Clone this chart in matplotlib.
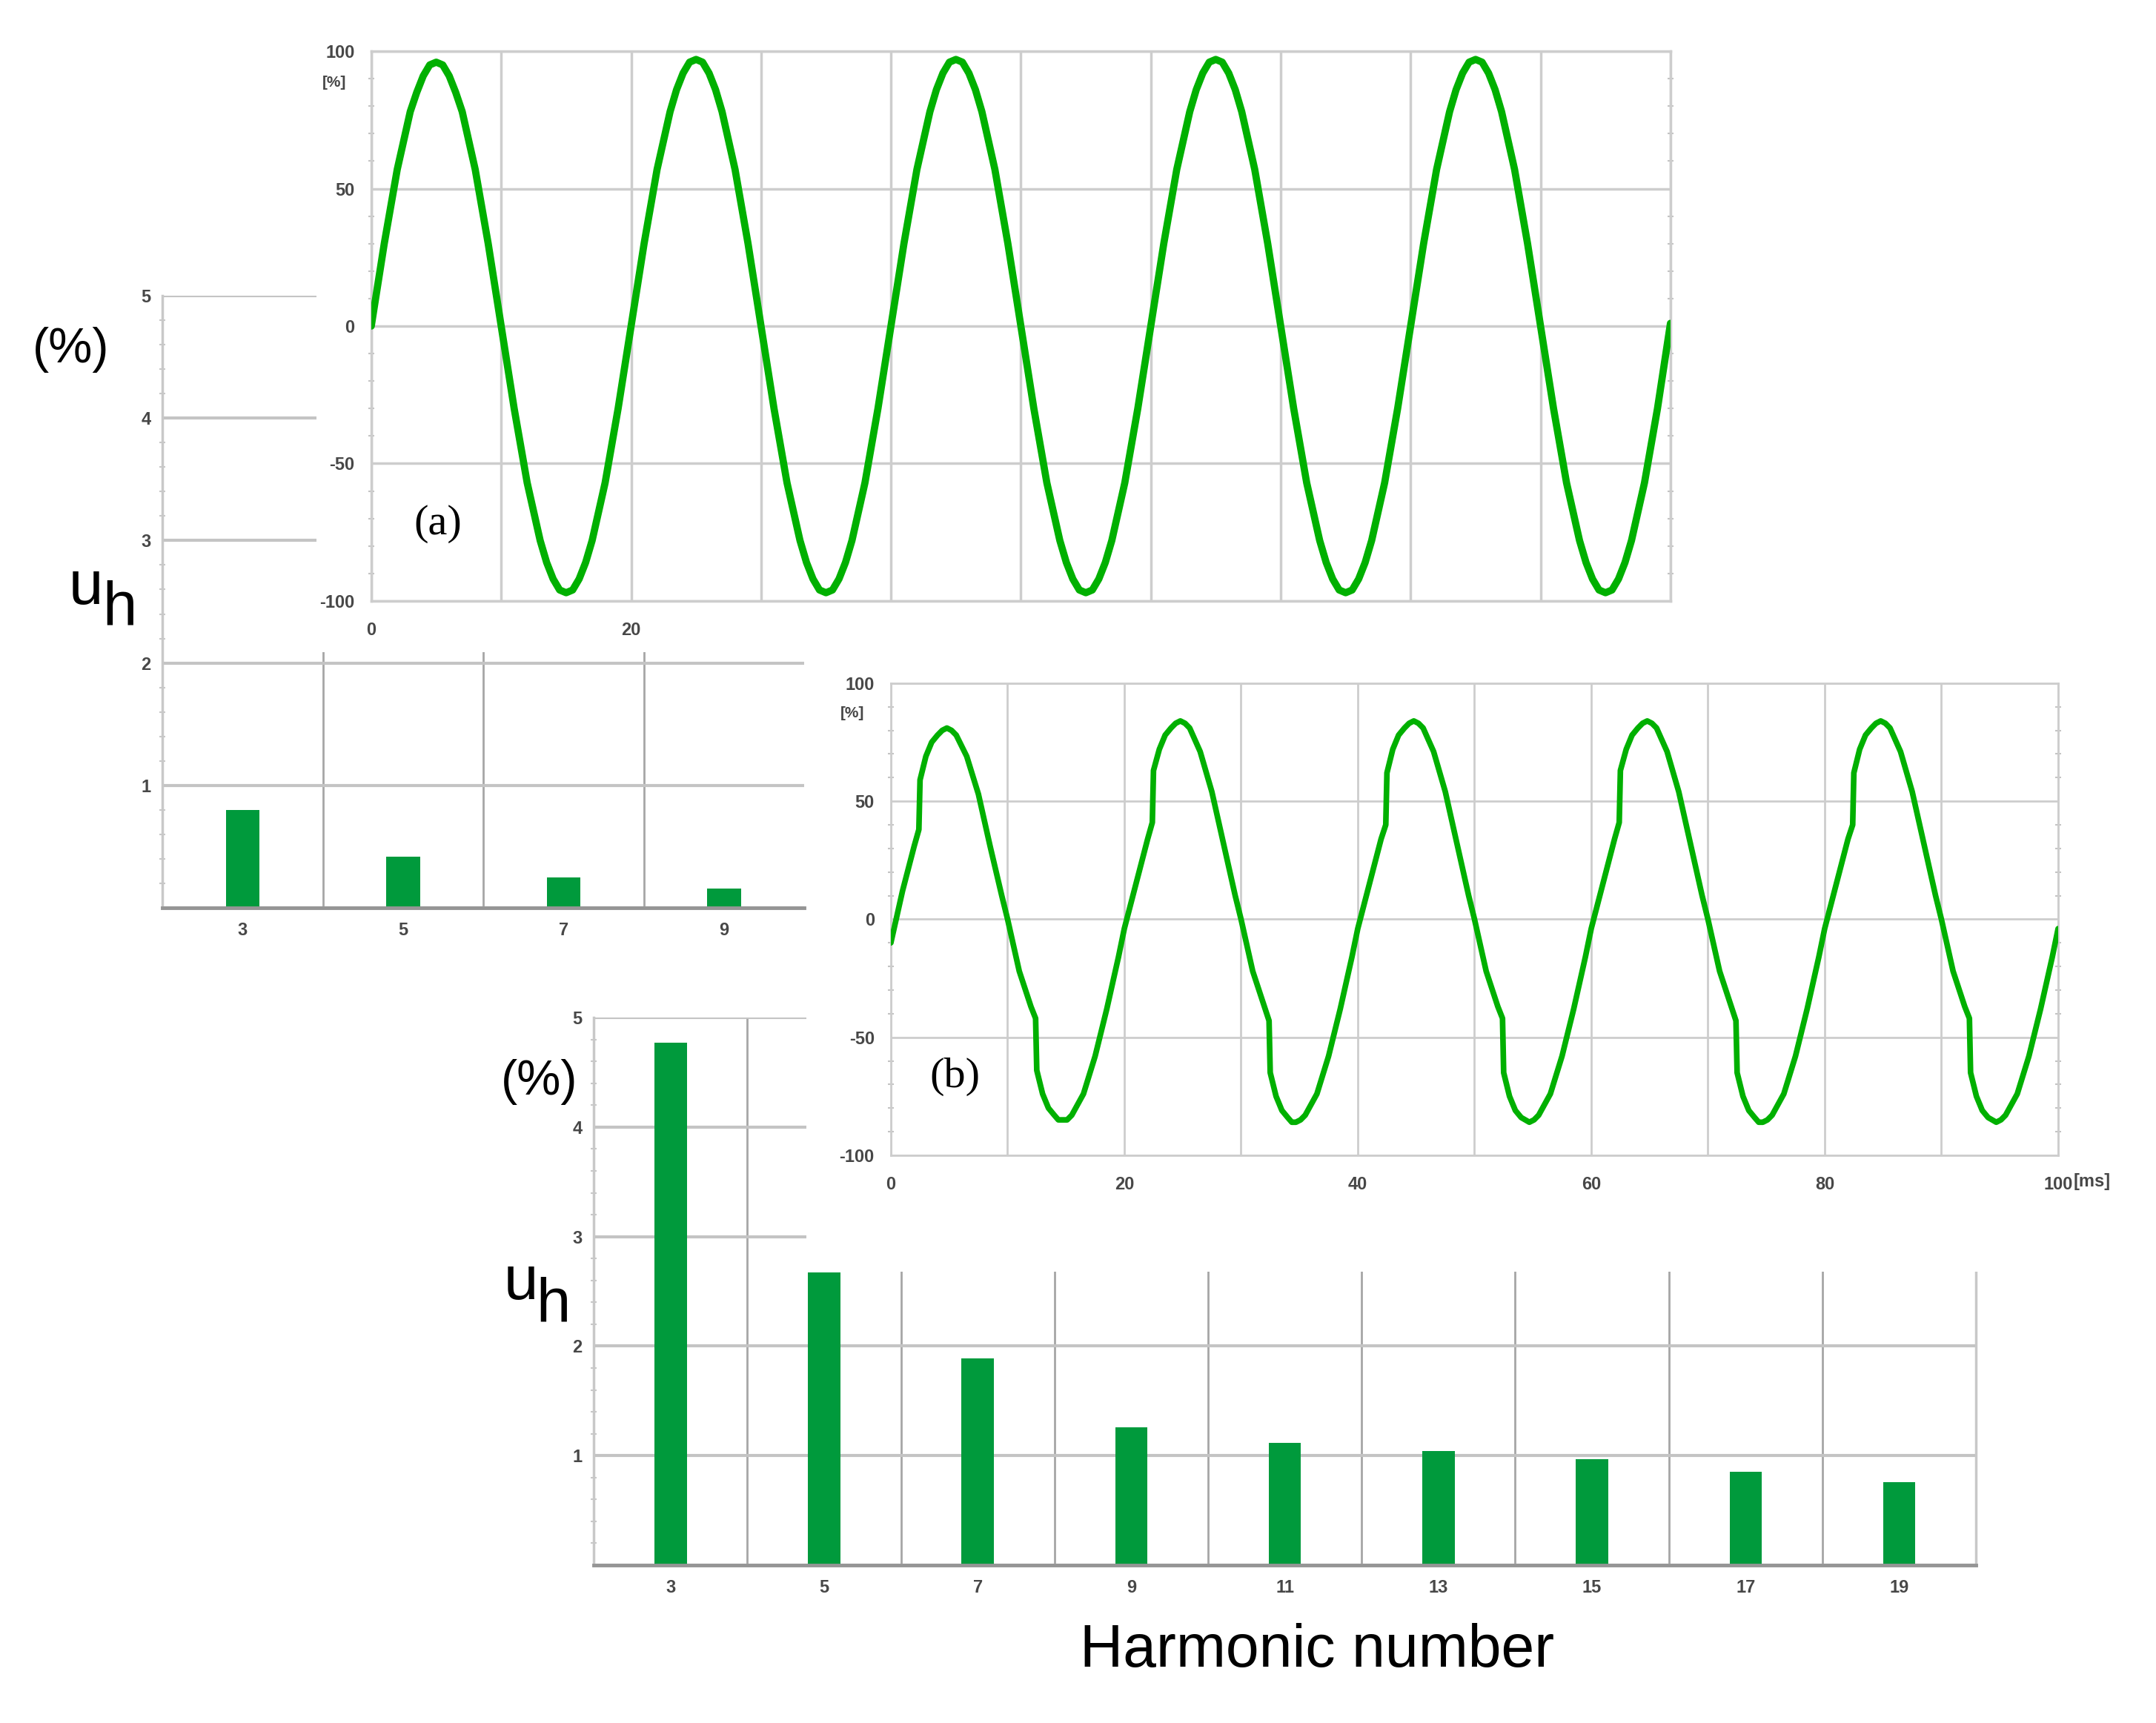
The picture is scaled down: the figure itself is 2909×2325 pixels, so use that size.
"""
Harmonic spectra u_h (%) with the matching voltage waveforms:
(a) nearly sinusoidal supply, (b) distorted supply with notches.
Composite layout: each waveform panel is laid over the upper part of its bar chart.
"""
import matplotlib; matplotlib.use("Agg")
import matplotlib.pyplot as plt
from matplotlib.patches import Rectangle
import numpy as np

# ── waveform (a) (ms, %), denser near the crests ──
t_a = [0, 1, 2, 3, 3.5, 4, 4.5, 5, 5.5, 6, 6.5, 7, 8, 9, 10, 11, 12, 13, 13.5, 14, 14.5, 15, 15.5, 16, 16.5, 17, 18, 19,
       20, 21, 22, 23, 23.5, 24, 24.5, 25, 25.5, 26, 26.5, 27, 28, 29, 30, 31, 32, 33, 33.5, 34, 34.5, 35, 35.5, 36, 36.5, 37, 38, 39,
       40, 41, 42, 43, 43.5, 44, 44.5, 45, 45.5, 46, 46.5, 47, 48, 49, 50, 51, 52, 53, 53.5, 54, 54.5, 55, 55.5, 56, 56.5, 57, 58, 59,
       60, 61, 62, 63, 63.5, 64, 64.5, 65, 65.5, 66, 66.5, 67, 68, 69, 70, 71, 72, 73, 73.5, 74, 74.5, 75, 75.5, 76, 76.5, 77, 78, 79,
       80, 81, 82, 83, 83.5, 84, 84.5, 85, 85.5, 86, 86.5, 87, 88, 89, 90, 91, 92, 93, 93.5, 94, 94.5, 95, 95.5, 96, 96.5, 97, 98, 99,
       100]
v_a = [0, 30, 57, 78, 85, 91, 95, 96, 95, 91, 85, 78, 57, 30, 0, -30, -57, -78, -86, -92, -96, -97, -96, -92, -86, -78, -57, -30,
       0, 30, 57, 78, 86, 92, 96, 97, 96, 92, 86, 78, 57, 30, 0, -30, -57, -78, -86, -92, -96, -97, -96, -92, -86, -78, -57, -30,
       0, 30, 57, 78, 86, 92, 96, 97, 96, 92, 86, 78, 57, 30, 0, -30, -57, -78, -86, -92, -96, -97, -96, -92, -86, -78, -57, -30,
       0, 30, 57, 78, 86, 92, 96, 97, 96, 92, 86, 78, 57, 30, 0, -30, -57, -78, -86, -92, -96, -97, -96, -92, -86, -78, -57, -30,
       0, 30, 57, 78, 86, 92, 96, 97, 96, 92, 86, 78, 57, 30, 0, -30, -57, -78, -86, -92, -96, -97, -96, -92, -86, -78, -57, -30,
       1]

# ── waveform (b): distorted, read point by point (ms, %) ──
t_b = [0, 1, 2, 2.4, 2.5, 3, 3.5, 4, 4.4, 4.8, 5.2, 5.6, 6.5, 7.5, 8.5, 9.5, 10, 11, 12, 12.4, 12.5, 13, 13.5, 14, 14.35, 14.7, 15.1, 15.5, 16.5, 17.5, 18.5, 19.5,
       20, 21, 22, 22.4, 22.5, 23, 23.5, 24, 24.4, 24.8, 25.2, 25.6, 26.5, 27.5, 28.5, 29.5, 30, 31, 32, 32.4, 32.5, 33, 33.5, 34, 34.35, 34.7, 35.1, 35.5, 36.5, 37.5, 38.5, 39.5,
       40, 41, 42, 42.4, 42.5, 43, 43.5, 44, 44.4, 44.8, 45.2, 45.6, 46.5, 47.5, 48.5, 49.5, 50, 51, 52, 52.4, 52.5, 53, 53.5, 54, 54.35, 54.7, 55.1, 55.5, 56.5, 57.5, 58.5, 59.5,
       60, 61, 62, 62.4, 62.5, 63, 63.5, 64, 64.4, 64.8, 65.2, 65.6, 66.5, 67.5, 68.5, 69.5, 70, 71, 72, 72.4, 72.5, 73, 73.5, 74, 74.35, 74.7, 75.1, 75.5, 76.5, 77.5, 78.5, 79.5,
       80, 81, 82, 82.4, 82.5, 83, 83.5, 84, 84.4, 84.8, 85.2, 85.6, 86.5, 87.5, 88.5, 89.5, 90, 91, 92, 92.4, 92.5, 93, 93.5, 94, 94.35, 94.7, 95.1, 95.5, 96.5, 97.5, 98.5, 99.5,
       100]
v_b = [-10, 12, 31, 38, 59, 69, 75, 78, 80, 81, 80, 78, 69, 53, 31, 10, 0, -22, -37, -42, -64, -74, -80, -83, -85, -85, -85, -83, -74, -58, -38, -16,
       -4, 15, 34, 41, 63, 72, 78, 81, 83, 84, 83, 81, 71, 54, 32, 10, 0, -22, -37, -43, -65, -75, -81, -84, -86, -86, -85, -83, -74, -58, -38, -16,
       -4, 15, 34, 40, 62, 72, 78, 81, 83, 84, 83, 81, 71, 54, 32, 10, 0, -22, -37, -42, -65, -75, -81, -84, -85, -86, -85, -83, -74, -58, -38, -16,
       -4, 15, 34, 41, 63, 72, 78, 81, 83, 84, 83, 81, 71, 54, 32, 10, 0, -22, -37, -43, -65, -75, -81, -84, -86, -86, -85, -83, -74, -58, -38, -16,
       -4, 15, 34, 40, 62, 72, 78, 81, 83, 84, 83, 81, 71, 54, 32, 10, 0, -22, -37, -42, -65, -75, -81, -84, -85, -86, -85, -83, -74, -58, -38, -16,
       -4]

# ── harmonic spectra ──
harm_a = [3, 5, 7, 9]
uh_a = [0.80, 0.42, 0.25, 0.16]
harm_b = [3, 5, 7, 9, 11, 13, 15, 17, 19]
uh_b = [4.77, 2.67, 1.89, 1.26, 1.12, 1.04, 0.97, 0.85, 0.76]

xlab_a = ["0", "", "20", "", "", "", "", "", "", "", ""]
xlab_b = ["0", "", "20", "", "40", "", "60", "", "80", "", "100"]
ylab_bar = ["", "1", "2", "3", "4", "5"]

GREEN, BAR, TXT = "#00b000", "#009a3c", "#474747"
plt.rcParams["font.family"] = ["Liberation Sans", "DejaVu Sans"]
plt.rcParams["axes.unicode_minus"] = False

fig = plt.figure(figsize=(29.09, 23.25), dpi=100)


def bold_ticks(ax):
    for lb in ax.get_xticklabels() + ax.get_yticklabels():
        lb.set_fontweight("bold")


def wave_panel(rect, t, v, xlabels, lw, gw):
    ax = fig.add_axes(rect, zorder=3)
    ax.plot(t, v, color=GREEN, lw=lw, solid_joinstyle="round", solid_capstyle="round", zorder=3)
    ax.set_xlim(0, 100); ax.set_ylim(-100, 100)
    ax.set_xticks(range(0, 101, 10)); ax.set_xticklabels(xlabels)
    ax.set_yticks([-100, -50, 0, 50, 100])
    ax.set_yticks(range(-100, 101, 10), minor=True)
    ax.grid(which="major", color="#cdcdcd", lw=gw)
    ax.tick_params(which="major", length=0, labelsize=17, labelcolor=TXT)
    ax.tick_params(axis="x", pad=20); ax.tick_params(axis="y", pad=16)
    ax.tick_params(axis="y", which="minor", length=6, width=1.5, color="#c4c4c4",
                   direction="inout", right=True)
    for s in ax.spines.values():
        s.set_color("#cdcdcd"); s.set_linewidth(gw)
    bold_ticks(ax)
    return ax


def bar_panel(rect, harm, vals, xmax, right):
    ax = fig.add_axes(rect, zorder=1)
    ax.bar(harm, vals, width=0.42, color=BAR, zorder=2)
    ax.set_xlim(2, xmax); ax.set_ylim(0, 5)
    ax.set_xticks(harm); ax.set_xticks(range(4, xmax, 2), minor=True)
    ax.set_yticks(range(6)); ax.set_yticklabels(ylab_bar)
    ax.set_yticks(np.arange(0, 5.01, 0.2), minor=True)
    ax.grid(which="major", axis="y", color="#c4c4c4", lw=3)
    ax.grid(which="minor", axis="x", color="#a6a6a6", lw=2)
    ax.tick_params(which="major", length=0, labelsize=17, labelcolor=TXT)
    ax.tick_params(axis="x", pad=14); ax.tick_params(axis="y", pad=11)
    ax.tick_params(axis="x", which="minor", length=0)
    ax.tick_params(axis="y", which="minor", length=6, width=1.5, color="#c8c8c8", direction="inout")
    ax.spines["top"].set_visible(False)
    ax.spines["right"].set_visible(right)
    ax.spines["right"].set_color("#c8c8c8"); ax.spines["right"].set_linewidth(2.5)
    ax.spines["left"].set_color("#c8c8c8"); ax.spines["left"].set_linewidth(2.5)
    ax.spines["bottom"].set_color("#959595"); ax.spines["bottom"].set_linewidth(3.5)
    ax.spines["bottom"].set_zorder(4)
    bold_ticks(ax)
    return ax


# (a) spectrum + waveform laid on top of it
bar_panel([0.0753, 0.4731, 0.2977, 0.3553], harm_a, uh_a, 10, False)
fig.add_artist(Rectangle((0.1468, 0.6215), 0.70, 0.3785, transform=fig.transFigure,
                         facecolor="white", edgecolor="none", zorder=2))
wa = wave_panel([0.1722, 0.6512, 0.6026, 0.3191], t_a, v_a, xlab_a, 7.0, 2.5)
wa.text(-0.0285, 0.943, "[%]", transform=wa.transAxes, ha="center", va="center",
        fontsize=15, fontweight="bold", color=TXT)
wa.text(0.051, 0.14, "(a)", transform=wa.transAxes, ha="center", va="center",
        fontsize=42, family="Liberation Serif", color="black")

# (b) spectrum + waveform
bar_panel([0.2754, 0.0916, 0.6411, 0.3178], harm_b, uh_b, 20, True)
fig.add_artist(Rectangle((0.374, 0.2619), 0.62, 0.351, transform=fig.transFigure,
                         facecolor="white", edgecolor="none", zorder=2))
wb = wave_panel([0.4132, 0.3295, 0.5414, 0.2740], t_b, v_b, xlab_b, 5.5, 2.0)
wb.text(-0.033, 0.936, "[%]", transform=wb.transAxes, ha="center", va="center",
        fontsize=15, fontweight="bold", color=TXT)
wb.text(1.013, -0.0565, "[ms]", transform=wb.transAxes, ha="left", va="center",
        fontsize=17, fontweight="bold", color=TXT)
wb.text(0.055, 0.166, "(b)", transform=wb.transAxes, ha="center", va="center",
        fontsize=42, family="Liberation Serif", color="black")

# axis annotations
for x, y in [(0.0330, 0.797), (0.2503, 0.372)]:
    fig.text(x, y, "(%)", ha="center", va="center", fontsize=48, zorder=5)
for (xu, yu), (xh, yh) in [((0.032, 0.6495), (0.0474, 0.6374)), ((0.2336, 0.246), (0.2486, 0.2327))]:
    fig.text(xu, yu, "u", ha="left", va="baseline", fontsize=60, zorder=5)
    fig.text(xh, yh, "h", ha="left", va="baseline", fontsize=60, zorder=5)
fig.text(0.611, 0.0327, "Harmonic number", ha="center", va="baseline", fontsize=58, zorder=5)

fig.savefig("out.png", dpi=100)
plt.close(fig)
